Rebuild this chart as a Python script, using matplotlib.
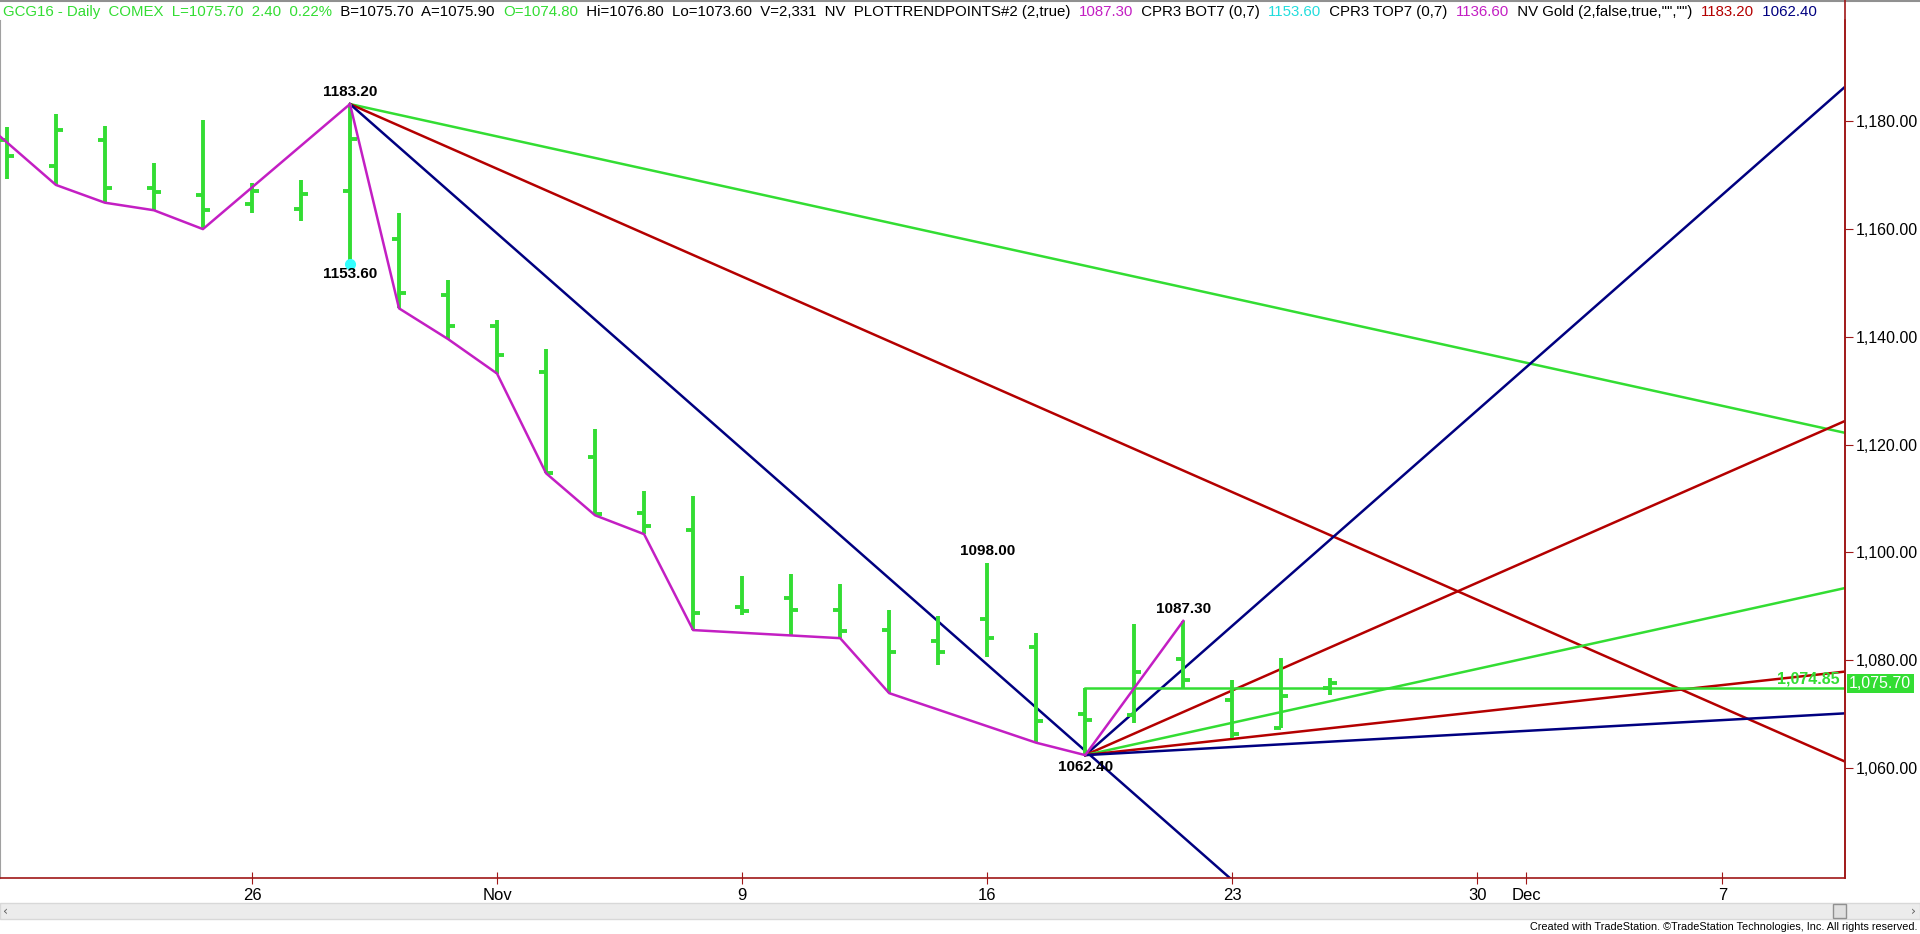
import numpy as np
import matplotlib
matplotlib.use("Agg")
import matplotlib.pyplot as plt
from matplotlib.patches import Rectangle
from matplotlib.ticker import FuncFormatter

# daily bars, GCG16 (Feb 2016 gold)
dates = ["2015-10-19", "2015-10-20", "2015-10-21", "2015-10-22", "2015-10-23",
         "2015-10-26", "2015-10-27", "2015-10-28", "2015-10-29", "2015-10-30",
         "2015-11-02", "2015-11-03", "2015-11-04", "2015-11-05", "2015-11-06",
         "2015-11-09", "2015-11-10", "2015-11-11", "2015-11-12", "2015-11-13",
         "2015-11-16", "2015-11-17", "2015-11-18", "2015-11-19", "2015-11-20",
         "2015-11-23", "2015-11-24", "2015-11-25"]
opens = [1176.5, 1171.7, 1176.5, 1167.6, 1166.3, 1164.6, 1163.7, 1167.1, 1158.1, 1147.7,
         1142.1, 1133.5, 1117.7, 1107.4, 1104.2, 1089.8, 1091.6, 1089.3, 1085.6, 1083.6,
         1087.7, 1082.4, 1070.1, 1069.9, 1080.2, 1072.6, 1067.5, 1074.8]
highs = [1178.9, 1181.4, 1179.1, 1172.2, 1180.3, 1168.6, 1169.1, 1183.2, 1162.9, 1150.5,
         1143.2, 1137.8, 1123.0, 1111.4, 1110.5, 1095.6, 1096.0, 1094.1, 1089.4, 1088.2,
         1098.0, 1085.1, 1074.85, 1086.8, 1087.3, 1076.3, 1080.5, 1076.8]
lows = [1169.3, 1168.2, 1164.9, 1163.5, 1160.0, 1163.0, 1161.5, 1153.6, 1145.3, 1139.6,
        1133.2, 1114.7, 1106.9, 1103.4, 1085.6, 1088.4, 1084.6, 1084.1, 1073.9, 1079.1,
        1080.6, 1064.7, 1062.4, 1068.4, 1074.6, 1065.5, 1067.5, 1073.6]
closes = [1173.5, 1178.4, 1167.7, 1166.8, 1163.5, 1167.1, 1166.6, 1176.8, 1148.1, 1142.1,
          1136.7, 1114.8, 1107.1, 1105.0, 1088.7, 1089.1, 1089.3, 1085.4, 1081.5, 1081.5,
          1084.1, 1068.8, 1068.9, 1077.8, 1076.3, 1066.4, 1073.4, 1075.7]

# PLOTTRENDPOINTS zigzag
zz_dates = ["2015-10-16", "2015-10-20", "2015-10-21", "2015-10-22", "2015-10-23",
            "2015-10-28", "2015-10-29", "2015-10-30", "2015-11-02", "2015-11-03",
            "2015-11-04", "2015-11-05", "2015-11-06", "2015-11-10", "2015-11-11",
            "2015-11-12", "2015-11-17", "2015-11-18", "2015-11-20"]
zz_prices = [1184.0, 1168.2, 1164.9, 1163.5, 1160.0, 1183.2, 1145.3, 1139.6, 1133.2, 1114.7,
             1106.9, 1103.4, 1085.6, 1084.6, 1084.1, 1073.9, 1064.7, 1062.4, 1087.3]

# gann style fans (price per bar)
fan_high_slopes = [-2, -4, -8]
fan_low_slopes = [8, 4, 2, 1, 0.5]
pivot_labels = ["1183.20", "1153.60", "1098.00", "1062.40", "1087.30"]
pivot_dates = ["2015-10-28", "2015-10-28", "2015-11-16", "2015-11-18", "2015-11-20"]
pivot_prices = [1183.2, 1153.6, 1098.0, 1062.4, 1087.3]
pivot_offsets = [12, -10, 12, -12, 12]
hline_price = 1074.85
last_price = 1075.70

tick_dates = ["2015-10-26", "2015-11-02", "2015-11-09", "2015-11-16", "2015-11-23",
              "2015-11-30", "2015-12-01", "2015-12-07"]
tick_labels = ["26", "Nov", "9", "16", "23", "30", "Dec", "7"]

GREEN = "#33dd33"
RED = "#b40000"
BLUE = "#000080"
MAG = "#c31fc3"
AXC = "#a01818"
NARROW = ["Liberation Sans Narrow", "Liberation Sans", "DejaVu Sans"]
ARIAL = ["Liberation Sans", "DejaVu Sans"]


def slot(d):
    # one slot per weekday, holidays keep their slot
    return np.busday_count(np.datetime64(dates[0]), np.datetime64(d))


x = np.array([slot(d) for d in dates])
W, H = 1920, 934
fig = plt.figure(figsize=(W / 100, H / 100), dpi=100)
ax = fig.add_axes([0, (H - 878) / H, 1845 / W, 858 / H])
ax.set_xlim(-0.14, 37.5)
ax.set_ylim(1039.6, 1198.8)

# ohlc bars
ax.vlines(x, lows, highs, color=GREEN, lw=2.8, zorder=3)
ax.hlines(opens, x - 0.14, x, color=GREEN, lw=2.8, zorder=3)
ax.hlines(closes, x, x + 0.14, color=GREEN, lw=2.8, zorder=3)

# zigzag
zx = [slot(d) for d in zz_dates]
ax.plot(zx, zz_prices, color=MAG, lw=1.8, zorder=4)

# fans
ih = int(np.argmax(highs))
il = int(np.argmin(lows))
far = np.array([0, 60])
for s, c in zip(fan_high_slopes, [GREEN, RED, BLUE]):
    ax.plot(x[ih] + far, highs[ih] + s * far, color=c, lw=1.8, zorder=2)
for s, c in zip(fan_low_slopes, [BLUE, RED, GREEN, RED, BLUE]):
    ax.plot(x[il] + far, lows[il] + s * far, color=c, lw=1.8, zorder=2)

ax.plot([x[il], x[il] + 60], [hline_price, hline_price], color=GREEN, lw=1.8, zorder=2)
ax.text(37.4, hline_price + 0.3, f"{hline_price:,.2f}", color=GREEN, fontsize=11.5,
        fontweight="bold", family=ARIAL, ha="right", va="bottom", zorder=5)
ax.plot(x[ih], lows[ih], "o", color="#33ffff", ms=7, zorder=5)

for lab, d, p, off in zip(pivot_labels, pivot_dates, pivot_prices, pivot_offsets):
    ax.annotate(lab, (slot(d), p), xytext=(0, off), textcoords="offset pixels",
                ha="center", va="center", fontsize=11, fontweight="bold",
                family=ARIAL, color="black", zorder=6)

# axes cosmetics
ax.spines["top"].set_visible(False)
ax.spines["left"].set_color("#a0a0a0")
ax.spines["right"].set_color(AXC)
ax.spines["bottom"].set_color(AXC)
ax.spines["right"].set_linewidth(1.2)
ax.spines["bottom"].set_linewidth(1.2)
ax.yaxis.tick_right()
ax.set_yticks(np.arange(1060, 1181, 20))
ax.yaxis.set_major_formatter(FuncFormatter(lambda v, p: f"{v:,.2f}"))
ax.tick_params(axis="y", length=6, color=AXC, labelsize=11.5, pad=2)
ax.set_xticks([slot(d) for d in tick_dates])
ax.set_xticklabels(tick_labels)
ax.tick_params(axis="x", direction="inout", length=9, color=AXC, labelsize=12, pad=3)
for t in ax.get_xticklabels():
    t.set_family(NARROW)
for t in ax.get_yticklabels():
    t.set_family(ARIAL)

# last price box on the axis
ax.annotate(f"{last_price:,.2f}", (1.0, last_price), xycoords=("axes fraction", "data"),
            xytext=(4, 0), textcoords="offset pixels", ha="left", va="center",
            fontsize=11.5, family=ARIAL, color="white",
            bbox=dict(boxstyle="square,pad=0.15", fc=GREEN, ec="none"),
            annotation_clip=False, zorder=7)

# header line
segs = [("GCG16 - Daily  COMEX  L=1075.70  2.40  0.22%", GREEN),
        ("  B=1075.70  A=1075.90  ", "black"), ("O=1074.80", GREEN),
        ("  Hi=1076.80  Lo=1073.60  V=2,331  NV  PLOTTRENDPOINTS#2 (2,true)  ", "black"),
        ("1087.30", MAG), ("  CPR3 BOT7 (0,7)  ", "black"), ("1153.60", "#22dddd"),
        ("  CPR3 TOP7 (0,7)  ", "black"), ("1136.60", MAG),
        ('  NV Gold (2,false,true,"","")  ', "black"), ("1183.20", RED), ("  1062.40", BLUE)]
r = fig.canvas.get_renderer()
px = 3
for s, c in segs:
    t = fig.text(px / W, 1 - 12 / H, s, color=c, fontsize=10.85, family=NARROW,
                 ha="left", va="center")
    px += t.get_window_extent(r).width

fig.add_artist(plt.Line2D([0, 1], [1 - 0.5 / H, 1 - 0.5 / H], color="#909090", lw=1.5))
fig.add_artist(plt.Line2D([1845 / W, 1845 / W], [(H - 878) / H, 1], color=AXC, lw=1.2))

# scrollbar + footer
fig.add_artist(Rectangle((0, (H - 919) / H), 1, 16 / H, fc="#ececec", ec="#d8d8d8", lw=1))
fig.add_artist(Rectangle((1833 / W, (H - 918) / H), 13 / W, 14 / H, fc="#e0e0e0",
                         ec="#909090", lw=1))
fig.text(6 / W, 1 - 911 / H, "‹", fontsize=9, color="#606060", ha="center", va="center")
fig.text(1913 / W, 1 - 911 / H, "›", fontsize=9, color="#606060", ha="center", va="center")
fig.text(1917 / W, 1 - 927 / H,
         "Created with TradeStation. ©TradeStation Technologies, Inc. All rights reserved.",
         fontsize=7.8, family=NARROW, color="black", ha="right", va="center")

fig.savefig("out.png", dpi=100)
